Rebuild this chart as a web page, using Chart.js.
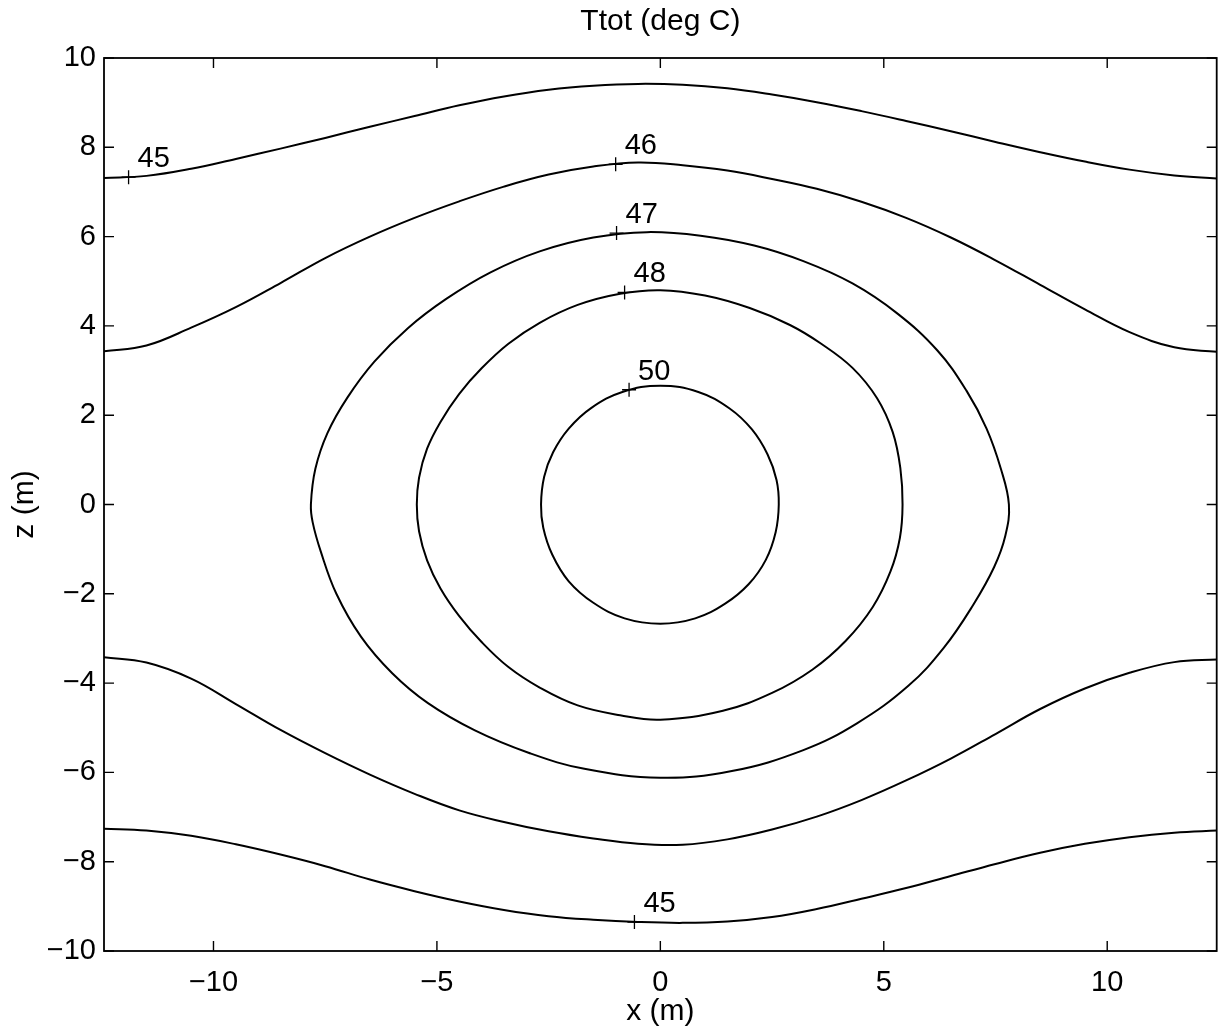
<!DOCTYPE html>
<html>
<head>
<meta charset="utf-8">
<script src="https://cdn.jsdelivr.net/npm/chart.js@4.4.0/dist/chart.umd.min.js"></script>
<style>
  html, body { margin: 0; padding: 0; background: #fff; }
  #c { display: block; }
</style>
</head>
<body>
<canvas id="c" width="1225" height="1033"></canvas>
<script>
// Temperature contours of Ttot (deg C) in the x–z plane, as [x, z] pairs in metres.
// Open contours run left to right across the domain.
const c45Upper = [[-12.45,7.31],[-11.5,7.36],[-10.5,7.52],[-9.5,7.74],[-8.5,7.97],[-7.5,8.21],[-6.5,8.46],[-5.5,8.7],[-4.5,8.94],[-3.5,9.14],[-2.5,9.29],[-1.5,9.38],[-0.5,9.42],[0.5,9.4],[1.5,9.32],[2.5,9.18],[3.5,9.01],[4.5,8.81],[5.5,8.59],[6.5,8.36],[7.5,8.12],[8.5,7.89],[9.5,7.68],[10.5,7.5],[11.5,7.37],[12.45,7.3]];
const c46Upper = [[-12.45,3.43],[-11.5,3.56],[-10.5,3.96],[-9.5,4.42],[-8.5,4.96],[-7.5,5.52],[-6.5,6.0],[-5.5,6.42],[-4.5,6.79],[-3.5,7.12],[-2.5,7.39],[-1.5,7.57],[-0.5,7.66],[0.5,7.6],[1.5,7.48],[2.5,7.29],[3.5,7.07],[4.5,6.78],[5.5,6.42],[6.5,5.98],[7.5,5.47],[8.5,4.92],[9.5,4.37],[10.5,3.86],[11.5,3.52],[12.45,3.42]];
const c46Lower = [[-12.46,-3.42],[-11.5,-3.54],[-10.5,-3.9],[-9.5,-4.47],[-8.5,-5.05],[-7.5,-5.57],[-6.5,-6.05],[-5.5,-6.48],[-4.5,-6.85],[-3.5,-7.11],[-2.5,-7.32],[-1.5,-7.48],[-0.5,-7.6],[0.5,-7.62],[1.5,-7.5],[2.5,-7.28],[3.5,-6.99],[4.5,-6.62],[5.5,-6.18],[6.5,-5.69],[7.5,-5.14],[8.5,-4.58],[9.5,-4.12],[10.5,-3.77],[11.5,-3.53],[12.48,-3.47]];
const c45Lower = [[-12.46,-7.26],[-11.5,-7.3],[-10.5,-7.42],[-9.5,-7.61],[-8.5,-7.84],[-7.5,-8.1],[-6.5,-8.4],[-5.5,-8.66],[-4.5,-8.89],[-3.5,-9.08],[-2.5,-9.22],[-1.5,-9.3],[-0.5,-9.35],[0.5,-9.37],[1.5,-9.34],[2.5,-9.24],[3.5,-9.06],[4.5,-8.83],[5.5,-8.59],[6.5,-8.32],[7.5,-8.05],[8.5,-7.8],[9.5,-7.6],[10.5,-7.45],[11.5,-7.35],[12.48,-7.3]];
// Closed contours, listed clockwise from the leftmost point (the loop closes itself).
const c47Ring = [[-7.82,0],[-7.72,0.8],[-7.45,1.6],[-7.0,2.4],[-6.4,3.2],[-5.65,3.95],[-4.8,4.6],[-3.8,5.2],[-2.7,5.67],[-1.5,5.98],[-0.3,6.1],[0.9,6.02],[2.1,5.8],[3.2,5.45],[4.3,4.95],[5.3,4.28],[6.2,3.45],[6.85,2.55],[7.3,1.7],[7.62,0.8],[7.8,0],[7.72,-0.7],[7.47,-1.4],[7.0,-2.25],[6.35,-3.2],[5.55,-4.06],[4.4,-4.9],[3.2,-5.5],[1.6,-5.97],[0,-6.12],[-1.7,-5.92],[-2.95,-5.56],[-4.15,-5.06],[-5.2,-4.45],[-6.0,-3.78],[-6.7,-2.96],[-7.25,-2.0],[-7.6,-1.05],[-7.78,-0.4]];
const c48Ring = [[-5.45,0],[-5.4,0.6],[-5.22,1.25],[-4.92,1.85],[-4.5,2.48],[-4.0,3.05],[-3.4,3.6],[-2.7,4.07],[-1.85,4.47],[-0.9,4.72],[0,4.8],[1.0,4.68],[2.0,4.4],[2.9,4.02],[3.6,3.6],[4.3,3.06],[4.85,2.38],[5.2,1.62],[5.37,0.82],[5.42,0],[5.36,-0.75],[5.15,-1.5],[4.75,-2.3],[4.15,-3.05],[3.4,-3.7],[2.5,-4.22],[1.4,-4.62],[0,-4.82],[-0.9,-4.72],[-1.85,-4.5],[-2.7,-4.1],[-3.4,-3.64],[-4.0,-3.08],[-4.5,-2.5],[-4.92,-1.88],[-5.22,-1.25],[-5.4,-0.6]];
const c50Ring = [[-2.67,0],[-2.6,0.62],[-2.4,1.17],[-2.05,1.7],[-1.55,2.16],[-0.85,2.52],[0,2.66],[0.85,2.52],[1.55,2.15],[2.05,1.68],[2.4,1.12],[2.6,0.55],[2.65,0],[2.58,-0.62],[2.36,-1.24],[1.98,-1.78],[1.45,-2.22],[0.78,-2.55],[0,-2.67],[-0.8,-2.55],[-1.5,-2.2],[-2.05,-1.72],[-2.42,-1.12],[-2.62,-0.52]];

// Contour level labels and where each one sits on its line
const labelTexts = ['45', '46', '47', '48', '50', '45'];
const labelX = [-11.9, -1.0, -0.98, -0.8, -0.7, -0.58];
const labelZ = [7.33, 7.62, 6.08, 4.75, 2.57, -9.35];

// Axis ticks
const xTicks = [-10, -5, 0, 5, 10];
const zTicks = [-10, -8, -6, -4, -2, 0, 2, 4, 6, 8, 10];

const FONT = '"Liberation Sans", Arial, Helvetica, sans-serif';
const toPts = arr => arr.map(p => ({ x: p[0], y: p[1] }));
const fmt = v => (v < 0 ? '\u2212' + Math.abs(v) : String(v));
const INK = '#000';
const LINE_W = 2;

const datasets = [];

// Open curves: smooth spline through the points
[c45Upper, c46Upper, c46Lower, c45Lower].forEach(c => {
  datasets.push({
    data: toPts(c), showLine: true, pointRadius: 0, pointHoverRadius: 0,
    borderColor: INK, borderWidth: LINE_W, tension: 0.4, fill: false
  });
});

// Closed curves: the point list is wrapped one step on each side so every
// visible segment gets proper neighbours; the two wrap segments are hidden.
[c47Ring, c48Ring, c50Ring].forEach(c => {
  const m = c.length;
  const wrapped = [c[m - 1], ...c, c[0], c[1]];
  const n = wrapped.length;
  datasets.push({
    data: toPts(wrapped), showLine: true, pointRadius: 0, pointHoverRadius: 0,
    borderColor: INK, borderWidth: LINE_W, tension: 0.4, fill: false,
    segment: {
      borderColor: ctx => (ctx.p0DataIndex === 0 || ctx.p1DataIndex === n - 1) ? 'rgba(0,0,0,0)' : undefined
    }
  });
});

// "+" markers where the level numbers are attached
datasets.push({
  data: labelX.map((x, i) => ({ x, y: labelZ[i] })),
  showLine: false, pointStyle: 'cross', pointRadius: 7, pointHoverRadius: 7,
  borderColor: INK, borderWidth: 1.3
});

// Box around the axes with inward tick marks on all four sides
const frameTicks = {
  id: 'frameTicks',
  afterDatasetsDraw(chart) {
    const { ctx, chartArea: a, scales } = chart;
    ctx.save();
    ctx.strokeStyle = INK;
    ctx.lineWidth = 1.8;
    ctx.strokeRect(a.left, a.top, a.right - a.left, a.bottom - a.top);
    ctx.lineWidth = 1.4;
    ctx.beginPath();
    const L = 10;
    xTicks.forEach(v => {
      const px = scales.x.getPixelForValue(v);
      ctx.moveTo(px, a.bottom); ctx.lineTo(px, a.bottom - L);
      ctx.moveTo(px, a.top); ctx.lineTo(px, a.top + L);
    });
    zTicks.forEach(v => {
      const py = scales.y.getPixelForValue(v);
      ctx.moveTo(a.left, py); ctx.lineTo(a.left + L, py);
      ctx.moveTo(a.right, py); ctx.lineTo(a.right - L, py);
    });
    ctx.stroke();
    ctx.restore();
  }
};

// Level numbers written next to their "+" markers
const levelLabels = {
  id: 'levelLabels',
  afterDatasetsDraw(chart) {
    const { ctx, scales } = chart;
    ctx.save();
    ctx.fillStyle = INK;
    ctx.font = '29px ' + FONT;
    ctx.textAlign = 'left';
    ctx.textBaseline = 'middle';
    labelTexts.forEach((t, i) => {
      const px = scales.x.getPixelForValue(labelX[i]);
      const py = scales.y.getPixelForValue(labelZ[i]);
      ctx.fillText(t, px + 9, py - 18);
    });
    ctx.restore();
  }
};

new Chart(document.getElementById('c'), {
  type: 'scatter',
  data: { datasets },
  plugins: [frameTicks, levelLabels],
  options: {
    responsive: false,
    animation: false,
    devicePixelRatio: 1,
    layout: { padding: { top: 0, right: 2, bottom: 0, left: 0 } },
    plugins: {
      legend: { display: false },
      tooltip: { enabled: false },
      title: {
        display: true, text: 'Ttot (deg C)', color: INK, fullSize: false,
        font: { family: FONT, size: 30, weight: 'normal' },
        padding: { top: 4, bottom: 18 }
      }
    },
    scales: {
      x: {
        type: 'linear', min: -12.45, max: 12.45,
        afterBuildTicks: s => { s.ticks = xTicks.map(v => ({ value: v })); },
        afterFit: s => { s.height = 82; },
        grid: { display: false, drawTicks: false },
        border: { display: false },
        ticks: { color: INK, padding: 15, font: { family: FONT, size: 29 }, callback: v => fmt(v) },
        title: { display: true, text: 'x (m)', color: INK, font: { family: FONT, size: 30 }, padding: { top: 0, bottom: 3 } }
      },
      y: {
        type: 'linear', min: -10, max: 10,
        afterBuildTicks: s => { s.ticks = zTicks.map(v => ({ value: v })); },
        afterFit: s => { s.width = 104; },
        grid: { display: false, drawTicks: false },
        border: { display: false },
        ticks: { color: INK, padding: 8, font: { family: FONT, size: 29 }, callback: v => fmt(v) },
        title: { display: true, text: 'z (m)', color: INK, font: { family: FONT, size: 30 }, padding: { top: 7, bottom: 0 } }
      }
    }
  }
});
</script>
</body>
</html>
